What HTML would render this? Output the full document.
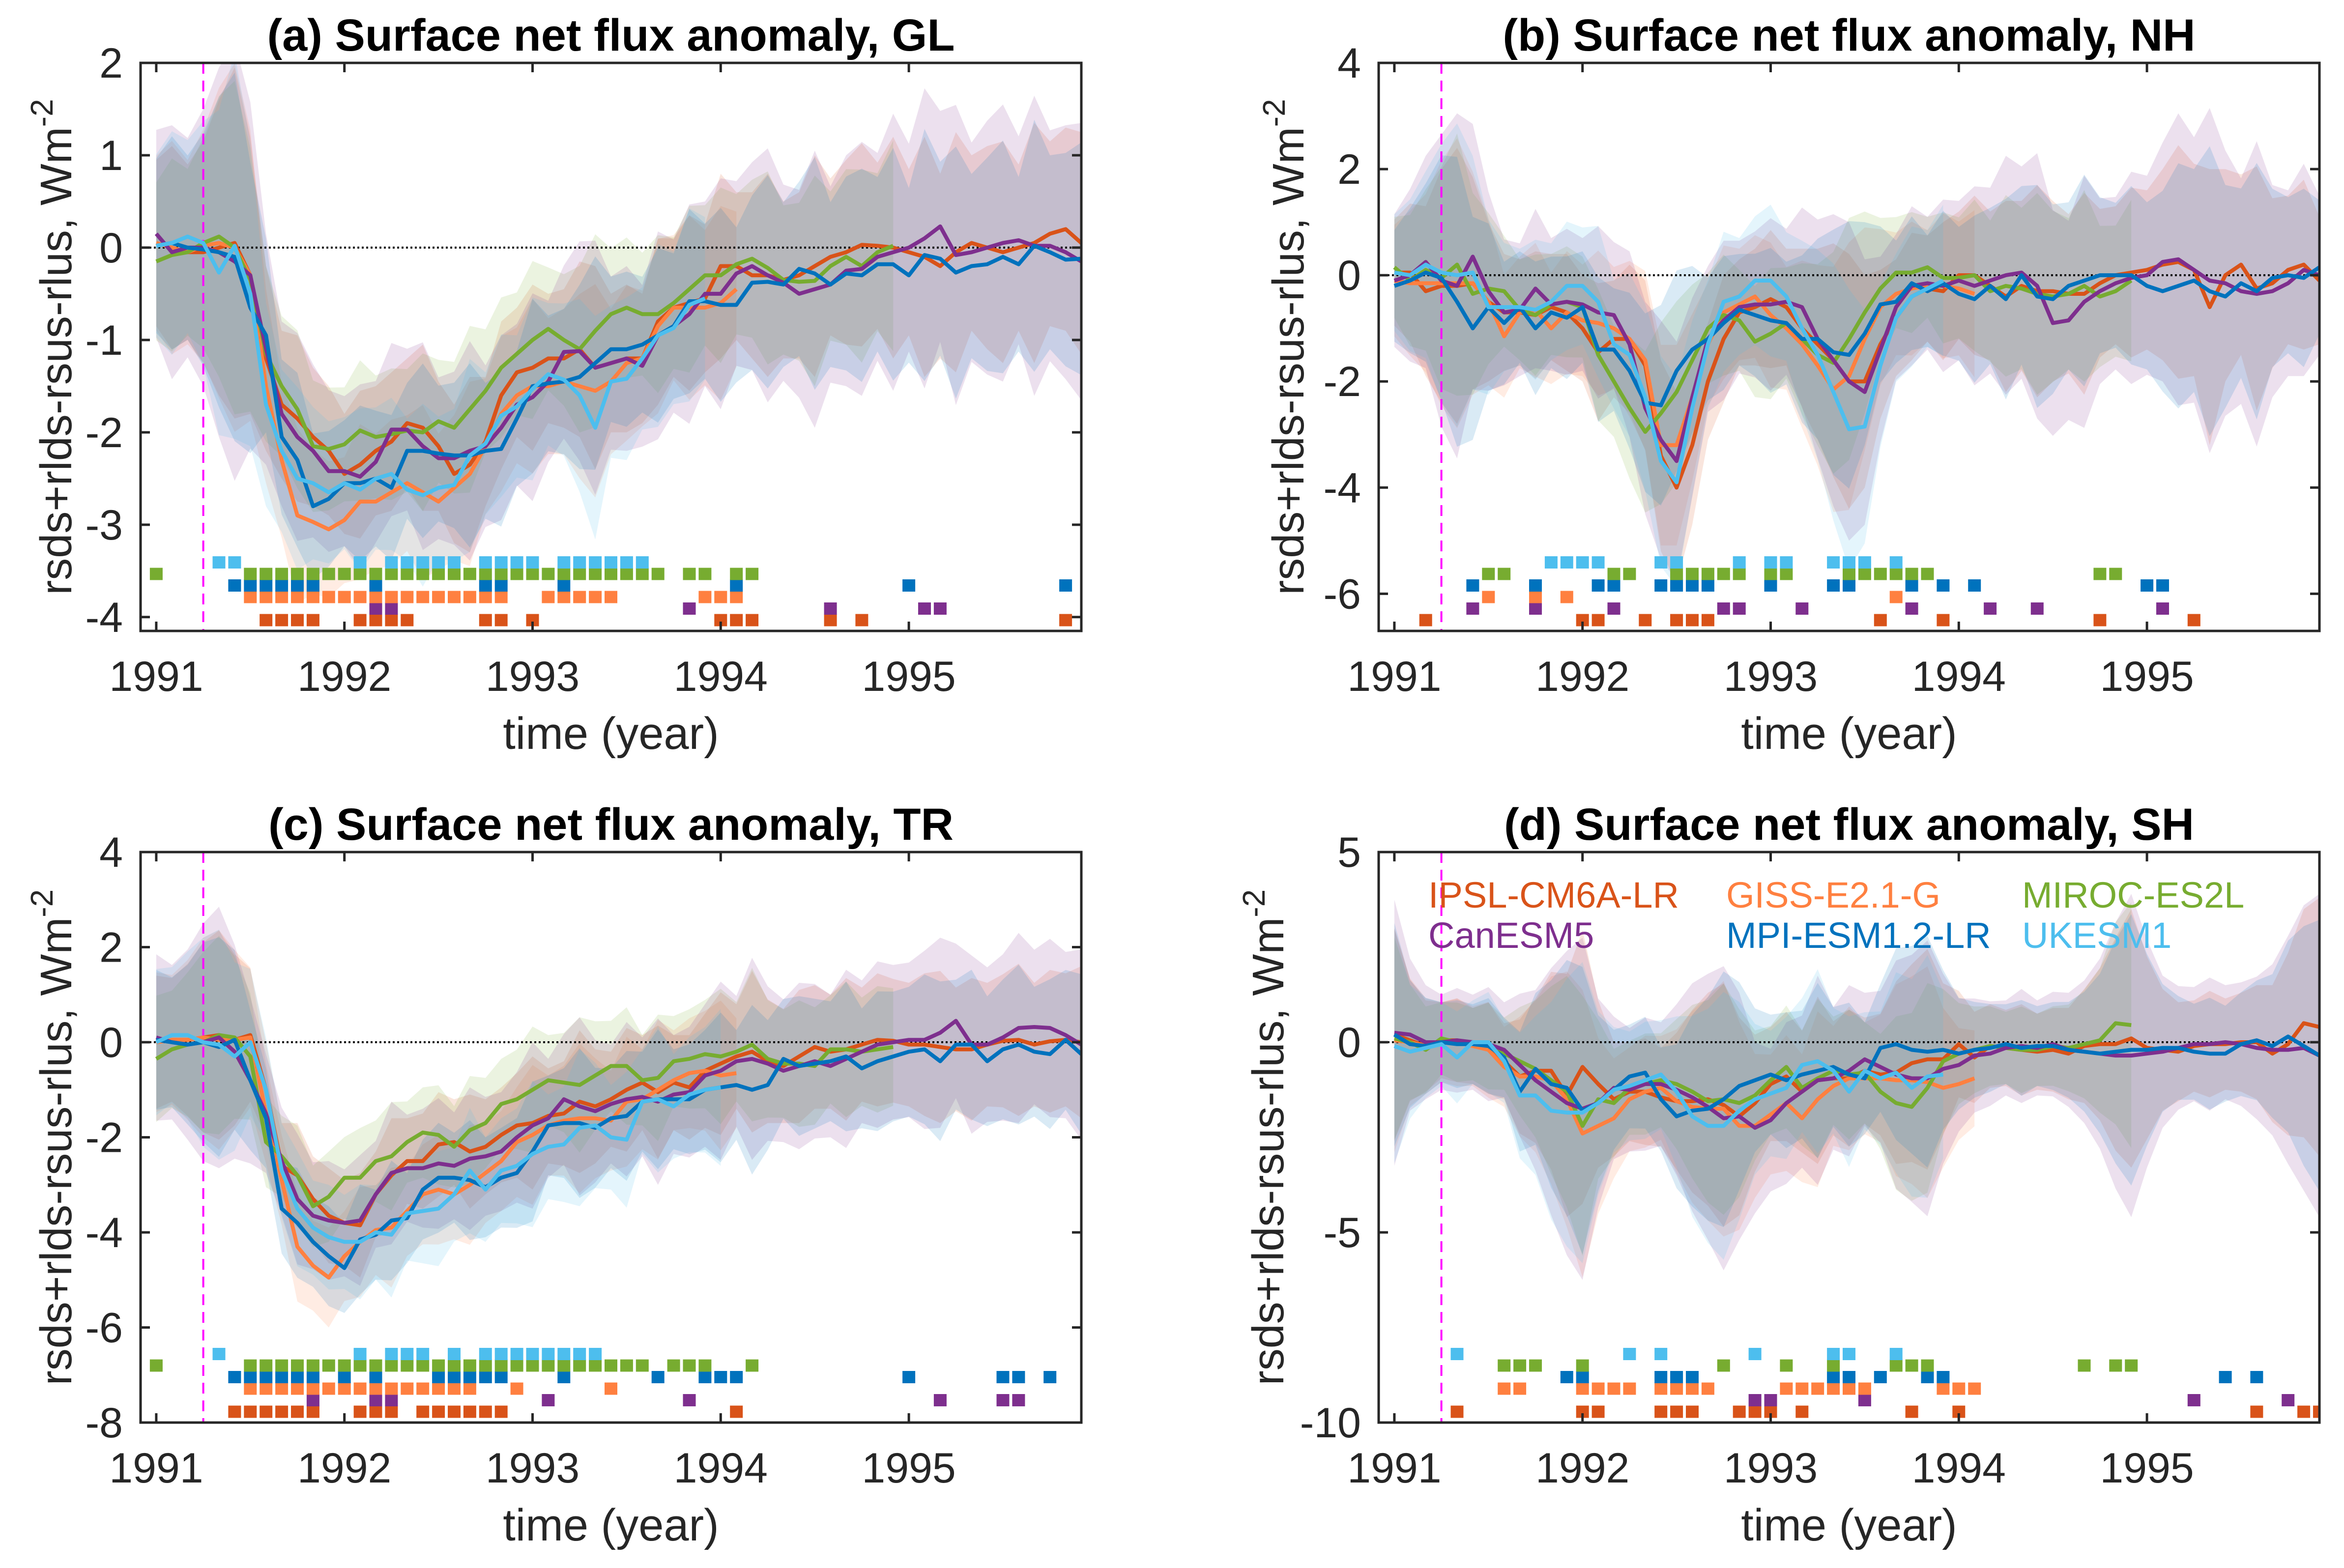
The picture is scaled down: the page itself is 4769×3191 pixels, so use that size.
<!DOCTYPE html>
<html><head><meta charset="utf-8"><title>Surface net flux anomaly</title>
<style>
html,body{margin:0;padding:0;background:#fff;}
svg{display:block;}
text{font-family:"Liberation Sans",Arial,sans-serif;fill:#262626;}
</style></head>
<body>
<svg id="fig" width="4769" height="3191" viewBox="0 0 4769 3191" xmlns="http://www.w3.org/2000/svg"></svg>
<script>
// ---- shared data ----
const modelNames = ["IPSL-CM6A-LR","GISS-E2.1-G","MIROC-ES2L","CanESM5","MPI-ESM1.2-LR","UKESM1"];
const modelKeys = ["ipsl","giss","miroc","can","mpi","ukesm"];
const xTickYears = [1991,1992,1993,1994,1995];
const eruptionYear = 1991.25;

// ---- panel (a) GL ----
const a_ipsl = [0.05,0,-0.05,-0.05,0,0.05,-0.3,-1.2,-1.7,-1.85,-2.05,-2.2,-2.45,-2.35,-2.2,-2.1,-1.9,-1.95,-2.15,-2.45,-2.35,-2.1,-1.6,-1.35,-1.3,-1.2,-1.2,-1.1,-1.3,-1.25,-1.2,-1.2,-0.8,-0.65,-0.6,-0.55,-0.2,-0.2,-0.3,-0.3,-0.35,-0.3,-0.2,-0.1,-0.05,0.03,0.02,0,-0.05,-0.1,-0.2,-0.05,0.05,0,-0.05,0,0.05,0.15,0.2,0.05];
const a_giss = [0.05,0,-0.05,0.02,0.05,0,-0.3,-1.5,-2.3,-2.9,-2.97,-3.05,-2.95,-2.75,-2.75,-2.65,-2.55,-2.65,-2.75,-2.6,-2.45,-2.15,-1.8,-1.6,-1.5,-1.5,-1.45,-1.5,-1.55,-1.45,-1.25,-1.2,-0.85,-0.65,-0.65,-0.65,-0.6,-0.45];
const a_miroc = [-0.15,-0.08,-0.05,0.05,0.12,0,-0.35,-1.15,-1.5,-1.75,-2.15,-2.18,-2.13,-1.98,-2.05,-2.02,-1.98,-2.0,-1.88,-1.95,-1.75,-1.55,-1.3,-1.15,-1.0,-0.88,-1.0,-1.1,-0.9,-0.72,-0.65,-0.72,-0.72,-0.6,-0.45,-0.3,-0.3,-0.18,-0.12,-0.22,-0.35,-0.37,-0.36,-0.2,-0.1,-0.2,-0.05,0.02];
const a_can = [0.15,-0.05,0,0,-0.05,-0.15,-0.3,-1.1,-1.8,-2.05,-2.2,-2.42,-2.42,-2.48,-2.32,-1.97,-1.97,-2.15,-2.28,-2.28,-2.2,-2.15,-1.95,-1.7,-1.62,-1.45,-1.13,-1.12,-1.3,-1.25,-1.2,-1.28,-0.95,-0.85,-0.72,-0.5,-0.5,-0.28,-0.2,-0.3,-0.38,-0.5,-0.45,-0.4,-0.25,-0.23,-0.1,-0.05,0,0.1,0.23,-0.08,-0.05,0,0.05,0.08,0.02,0.02,-0.05,-0.15];
const a_mpi = [0.02,0.05,0,-0.02,-0.05,-0.1,-0.65,-0.95,-2.05,-2.3,-2.8,-2.72,-2.55,-2.55,-2.5,-2.6,-2.2,-2.2,-2.23,-2.25,-2.25,-2.2,-2.18,-1.85,-1.5,-1.47,-1.45,-1.4,-1.25,-1.1,-1.1,-1.05,-0.95,-0.85,-0.58,-0.58,-0.62,-0.62,-0.38,-0.37,-0.4,-0.23,-0.28,-0.4,-0.28,-0.3,-0.18,-0.18,-0.3,-0.08,-0.12,-0.27,-0.2,-0.18,-0.1,-0.18,0.02,-0.05,-0.13,-0.12];
const a_ukesm = [0.02,0.05,0.12,0.05,-0.27,0.02,-0.5,-1.7,-2.2,-2.5,-2.55,-2.65,-2.55,-2.62,-2.5,-2.45,-2.62,-2.68,-2.6,-2.57,-2.25,-2.12,-1.82,-1.72,-1.53,-1.37,-1.43,-1.6,-1.95,-1.45,-1.42,-1.2,-0.95,-0.87,-0.62,-0.55];
const a_spread = [0.9,1.1,0.95,1.2,1.6,1.9,1.5,1.0,0.8,0.9,0.75,0.7,0.65,0.8,0.7,0.75,0.7,0.9,0.7,0.75,0.95,0.7,0.8,0.7,0.9,0.7,0.75,0.95,1.1,0.75,0.8,0.7,0.9,0.75,0.95,0.8,1.0,0.8,0.9,1.1,0.85,0.9,1.2,0.85,1.0,1.1,0.9,1.2,0.9,1.3,1.0,1.3,0.95,1.1,1.2,0.9,1.3,1.0,1.1,1.2];
const a_sig_ipsl = [7,8,9,10,13,14,15,16,21,22,24,36,37,38,43,45,58];
const a_sig_can = [14,15,34,43,49,50];
const a_sig_giss = [6,7,8,9,10,11,12,13,14,15,16,17,18,19,20,21,22,25,26,27,28,29,35,36,37];
const a_sig_mpi = [5,6,7,8,9,10,14,21,22,26,37,48,58];
const a_sig_miroc = [0,6,7,8,9,10,11,12,13,14,15,16,17,18,19,20,21,22,23,24,25,26,27,28,29,30,31,32,34,35,37,38];
const a_sig_ukesm = [4,5,13,15,16,17,18,19,21,22,23,24,26,27,28,29,30,31];
const a_yTicks = [2,1,0,-1,-2,-3,-4];

// ---- panel (b) NH ----
const b_ipsl = [0.05,0.05,-0.3,-0.2,-0.2,-0.15,-0.5,-0.7,-0.7,-0.75,-0.6,-0.7,-1.0,-1.45,-1.2,-1.2,-1.7,-3.4,-4.0,-3.2,-2.0,-1.2,-0.7,-0.6,-0.45,-0.6,-1.0,-1.3,-1.6,-2.0,-2.0,-1.3,-0.8,-0.4,-0.25,-0.3,0,0,-0.2,-0.4,-0.2,-0.3,-0.3,-0.35,-0.35,-0.15,0,0.05,0.1,0.2,0.25,0.1,-0.6,0,0.2,-0.25,-0.15,0.1,0.2,-0.1];
const b_giss = [-0.1,-0.15,-0.15,-0.15,-0.15,-0.15,-0.5,-1.15,-0.7,-0.65,-1.0,-0.7,-0.85,-0.9,-1.0,-1.2,-1.6,-3.2,-3.2,-2.3,-1.3,-0.7,-0.55,-0.4,-0.75,-1.0,-1.3,-1.7,-2.15,-1.9,-1.2,-0.6,-0.35,-0.25,-0.2,-0.2,-0.25,-0.35];
const b_miroc = [0.15,-0.1,0.1,-0.05,0.2,-0.35,-0.25,-0.3,-0.65,-0.75,-0.55,-0.5,-0.6,-1.5,-2.0,-2.5,-2.95,-2.6,-2.2,-1.6,-1.0,-0.75,-0.85,-1.25,-1.1,-0.9,-1.2,-1.5,-1.65,-1.2,-0.7,-0.25,0.05,0.05,0.15,-0.05,-0.05,0,-0.3,-0.2,-0.25,-0.35,-0.4,-0.35,-0.2,-0.4,-0.3,-0.1];
const b_can = [-0.1,0,0.25,-0.1,-0.2,0.35,-0.3,-0.7,-0.65,-0.25,-0.55,-0.5,-0.55,-0.7,-0.75,-1.3,-2.5,-3.1,-3.5,-2.3,-1.2,-0.85,-0.6,-0.55,-0.55,-0.5,-0.6,-1.2,-1.6,-2.0,-2.2,-1.4,-0.6,-0.2,-0.15,-0.2,-0.1,-0.2,-0.1,0,0.05,-0.2,-0.9,-0.85,-0.5,-0.3,-0.15,-0.05,0,0.25,0.3,0.1,-0.1,-0.15,-0.3,-0.35,-0.3,-0.15,0.1,0];
const b_mpi = [-0.2,-0.1,0.05,-0.05,-0.5,-1.0,-0.6,-0.9,-0.6,-1.0,-0.7,-0.8,-0.6,-1.4,-1.4,-1.8,-2.4,-2.45,-1.8,-1.4,-1.2,-0.9,-0.65,-0.75,-0.85,-0.9,-1.2,-1.2,-1.45,-1.5,-1.1,-0.55,-0.5,-0.15,-0.3,-0.15,-0.35,-0.45,-0.2,-0.45,0,-0.4,-0.45,-0.2,-0.1,0,0,0,-0.2,-0.3,-0.2,-0.1,-0.3,-0.4,-0.15,-0.3,-0.05,0,-0.05,0.15];
const b_ukesm = [0.05,0,0.2,0.05,0,0.05,-0.6,-0.6,-0.6,-0.65,-0.5,-0.2,-0.2,-0.5,-1.3,-1.5,-2.3,-3.5,-3.9,-2.5,-1.3,-0.5,-0.4,-0.1,-0.1,-0.4,-1.0,-1.5,-2.2,-2.9,-2.85,-1.7,-0.8,-0.4,-0.25,-0.1];
const b_spread = [1.0,1.3,1.6,2.2,2.6,2.0,1.5,1.1,1.0,1.2,1.0,1.1,1.0,1.3,1.1,1.4,1.6,1.8,1.8,1.5,1.1,1.2,1.0,1.1,1.3,1.1,1.5,1.8,2.2,2.4,2.0,1.4,1.1,1.2,1.0,1.3,1.2,1.5,1.4,1.8,1.6,2.0,1.7,1.5,1.9,1.4,1.3,1.6,1.5,1.8,2.2,2.0,2.6,2.0,1.7,2.3,1.6,1.4,1.6,1.2];
const b_sig_ipsl = [2,12,13,16,18,19,20,31,35,45,51];
const b_sig_can = [5,9,14,21,22,26,33,38,41,49];
const b_sig_giss = [6,9,11,32];
const b_sig_mpi = [5,9,13,14,17,18,19,20,24,28,29,33,35,37,48,49];
const b_sig_miroc = [6,7,14,15,18,19,20,21,22,24,25,29,30,31,32,33,34,45,46];
const b_sig_ukesm = [10,11,12,13,17,18,22,24,25,28,29,30,32];
const b_yTicks = [4,2,0,-2,-4,-6];

// ---- panel (c) TR ----
const c_ipsl = [0,0.05,0.05,0.1,0.15,0.05,0.15,-1.0,-2.6,-2.8,-3.3,-3.65,-3.8,-3.85,-3.2,-2.8,-2.5,-2.5,-2.15,-2.1,-2.3,-2.2,-1.95,-1.75,-1.7,-1.55,-1.5,-1.25,-1.35,-1.2,-1.0,-0.85,-1.05,-0.85,-0.95,-0.6,-0.45,-0.3,-0.2,-0.4,-0.5,-0.3,-0.1,-0.2,-0.15,-0.05,0.05,0.03,-0.05,-0.05,-0.1,-0.15,-0.15,-0.05,0.03,0.05,-0.05,0.02,0.05,0];
const c_giss = [0,0.05,0.05,0.1,0.05,0.05,0.1,-1.5,-2.9,-4.3,-4.7,-4.95,-4.5,-4.2,-3.95,-3.9,-3.55,-3.2,-3.1,-3.2,-3.0,-2.75,-2.5,-2.1,-1.95,-1.75,-1.65,-1.6,-1.6,-1.65,-1.25,-1.2,-1.0,-0.8,-0.65,-0.6,-0.7,-0.65];
const c_miroc = [-0.35,-0.15,-0.05,0,0.15,0.1,-0.3,-2.1,-2.4,-2.8,-3.45,-3.25,-2.85,-2.85,-2.5,-2.4,-2.1,-1.9,-1.95,-2.2,-1.85,-1.7,-1.3,-1.2,-1.0,-0.8,-0.85,-0.9,-0.7,-0.5,-0.5,-0.8,-0.75,-0.4,-0.35,-0.25,-0.3,-0.2,-0.05,-0.35,-0.45,-0.45,-0.5,-0.15,-0.15,-0.2,-0.15,-0.1];
const c_can = [0.1,0,-0.05,0,0.1,-0.2,-0.8,-1.5,-2.5,-3.3,-3.65,-3.75,-3.8,-3.75,-3.2,-2.75,-2.65,-2.65,-2.55,-2.6,-2.45,-2.4,-2.3,-2.0,-1.75,-1.6,-1.2,-1.35,-1.45,-1.3,-1.2,-1.15,-1.25,-1.1,-1.05,-0.7,-0.6,-0.4,-0.35,-0.45,-0.6,-0.5,-0.4,-0.5,-0.35,-0.2,-0.05,0,0.05,0.05,0.2,0.45,-0.05,-0.05,0.1,0.3,0.32,0.3,0.15,-0.05];
const c_mpi = [0.05,0,-0.05,0,-0.1,0.05,-0.8,-1.6,-3.5,-3.8,-4.2,-4.5,-4.75,-4.15,-4.05,-3.75,-3.7,-3.1,-2.85,-2.85,-2.9,-3.05,-2.85,-2.75,-2.3,-1.75,-1.7,-1.7,-1.8,-1.6,-1.55,-1.25,-1.2,-1.2,-1.2,-1.0,-0.95,-0.9,-1.0,-0.9,-0.35,-0.5,-0.45,-0.4,-0.3,-0.55,-0.4,-0.3,-0.2,-0.15,-0.4,-0.05,-0.05,-0.4,-0.15,-0.05,-0.2,-0.25,0.05,-0.25];
const c_ukesm = [0,0.15,0.15,0,-0.05,-0.3,0,-1.0,-2.7,-3.5,-3.9,-4.1,-4.2,-4.2,-4.0,-4.05,-3.6,-3.55,-3.5,-3.2,-2.7,-3.1,-2.7,-2.6,-2.35,-2.2,-2.15,-1.8,-1.75,-2.0,-2.05,-1.25,-1.2,-1.35,-1.1,-1.0,-0.95];
const c_spread = [1.4,1.3,1.6,2.0,2.2,1.8,1.4,1.0,0.9,1.1,0.9,1.0,0.9,1.1,0.9,1.2,0.9,1.0,1.1,0.9,1.2,1.0,1.0,1.1,1.4,1.0,1.1,1.5,1.2,1.0,1.3,1.0,1.4,1.0,1.1,1.2,1.5,1.1,1.7,1.3,1.2,1.4,1.3,1.2,1.5,1.2,1.4,1.3,1.3,1.5,1.6,1.3,1.5,1.3,1.4,1.6,1.3,1.5,1.4,1.6];
const c_sig_ipsl = [5,6,7,8,9,10,13,14,15,17,18,19,20,21,22,37];
const c_sig_can = [10,14,15,25,34,50,54,55];
const c_sig_giss = [6,7,8,9,10,11,12,13,14,15,16,17,18,19,20,23,29];
const c_sig_mpi = [5,6,7,8,9,10,12,14,18,19,20,21,22,26,32,35,36,37,48,54,55,57];
const c_sig_miroc = [0,6,7,8,9,10,11,12,13,14,15,16,17,18,19,20,21,22,23,24,25,26,27,28,29,30,31,33,34,35,38];
const c_sig_ukesm = [4,13,15,16,17,19,21,22,23,24,25,26,27,28];
const c_yTicks = [4,2,0,-2,-4,-6,-8];

// ---- panel (d) SH ----
const d_ipsl = [0.2,0.05,-0.1,0.05,0.05,-0.1,-0.15,-0.5,-0.9,-0.75,-0.75,-1.4,-0.65,-1.1,-1.5,-1.3,-1.3,-1.45,-1.55,-1.55,-1.5,-1.65,-1.95,-1.6,-1.1,-0.9,-1.3,-1.0,-0.95,-0.95,-0.75,-0.85,-0.8,-0.55,-0.45,-0.45,-0.05,-0.4,-0.1,-0.15,-0.2,-0.25,-0.2,-0.3,-0.1,-0.05,-0.05,0.1,-0.15,-0.2,-0.25,-0.1,-0.05,-0.05,0,0,-0.3,-0.05,0.5,0.4];
const d_giss = [0.05,0,-0.1,0,0,-0.1,-0.2,-0.65,-0.9,-0.9,-1.0,-1.5,-2.4,-2.2,-2.0,-1.5,-1.3,-1.2,-1.55,-1.7,-1.75,-1.75,-2.2,-2.2,-1.9,-1.6,-2.0,-1.5,-1.15,-0.95,-0.95,-0.95,-1.0,-1.0,-1.05,-1.2,-1.1,-0.95];
const d_miroc = [0.1,0,-0.2,0.1,0,-0.05,-0.1,-0.3,-0.5,-0.7,-1.0,-1.3,-2.2,-1.5,-1.6,-1.2,-1.1,-1.0,-1.1,-1.3,-1.55,-1.5,-1.6,-1.4,-1.0,-0.65,-1.2,-0.95,-0.75,-0.85,-0.8,-1.3,-1.6,-1.7,-1.2,-0.5,-0.3,-0.2,-0.1,-0.15,-0.2,-0.2,-0.1,-0.15,-0.05,0.05,0.5,0.45];
const d_can = [0.25,0.2,0,0,0.05,0,-0.05,-0.2,-0.6,-1.0,-1.3,-1.6,-1.75,-1.6,-1.2,-1.25,-1.1,-1.1,-1.25,-1.45,-1.7,-2.0,-1.95,-2.25,-2.05,-1.6,-1.3,-1.0,-0.95,-0.75,-0.45,-0.65,-0.85,-0.95,-0.95,-0.7,-0.6,-0.35,-0.3,-0.15,-0.1,-0.15,-0.05,-0.2,-0.25,-0.3,-0.35,-0.35,-0.3,-0.25,-0.15,-0.05,-0.05,0,-0.05,-0.15,-0.2,-0.2,-0.15,-0.35];
const d_mpi = [0.2,-0.05,-0.1,0,-0.05,-0.05,-0.1,-0.4,-1.3,-0.7,-1.1,-1.2,-1.8,-1.6,-1.25,-0.9,-0.8,-1.5,-1.95,-1.8,-1.75,-1.5,-1.15,-1.0,-0.85,-1.0,-0.85,-0.75,-0.65,-0.85,-0.95,-0.15,-0.05,-0.2,-0.25,-0.2,-0.3,-0.2,-0.15,-0.05,-0.15,-0.1,-0.1,-0.2,-0.25,-0.3,-0.25,-0.2,-0.2,-0.15,-0.15,-0.25,-0.3,-0.3,-0.05,0.05,-0.1,0.15,-0.1,-0.35];
const d_ukesm = [-0.1,-0.25,-0.15,-0.05,-0.4,0,0,-0.5,-1.4,-1.4,-1.8,-1.85,-1.85,-1.6,-1.25,-1.15,-1.0,-0.85,-1.3,-1.95,-2.2,-2.2,-1.8,-1.5,-1.35,-1.2,-0.6,-0.5,-0.75,-1.3,-0.75,-0.95,-0.8,-1.2,-0.9,-0.85];
const d_spread = [2.8,1.6,1.2,1.0,1.1,1.0,1.2,1.0,1.5,1.9,2.6,3.2,3.6,2.2,1.5,1.3,1.4,1.3,1.8,2.4,2.8,3.2,2.6,1.8,1.5,1.7,1.6,2.2,1.5,1.8,1.4,1.6,2.4,2.6,2.9,2.0,1.4,1.2,1.1,1.0,1.2,1.0,1.1,1.2,1.5,2.0,2.8,3.4,2.4,1.6,1.3,1.2,1.4,1.2,1.3,1.5,1.8,2.4,3.0,3.4];
const d_sig_ipsl = [4,12,13,17,18,19,22,23,24,26,33,36,55,58,59];
const d_sig_can = [23,24,30,51,57];
const d_sig_giss = [7,8,12,13,14,15,17,18,19,20,25,26,27,28,29,30,35,36,37];
const d_sig_mpi = [11,12,17,18,19,28,29,31,34,35,53,55];
const d_sig_miroc = [7,8,9,12,21,25,28,32,33,34,44,46,47];
const d_sig_ukesm = [4,15,17,23,28,29,32];
const d_yTicks = [5,0,-5,-10];

// ---- rendering ----
const NS = "http://www.w3.org/2000/svg";
const svg = document.getElementById("fig");
const colors = {ipsl:"#D95319",giss:"#FF8040",miroc:"#77AC30",can:"#7E2F8E",mpi:"#0072BD",ukesm:"#4DBEEE"};
const bandK = {ipsl:1.0,giss:1.05,miroc:0.95,can:1.25,mpi:1.05,ukesm:1.1};
const INK = "#262626";

function mk(tag, attrs, parent) {
  const e = document.createElementNS(NS, tag);
  for (const k in attrs) e.setAttribute(k, attrs[k]);
  (parent || svg).appendChild(e);
  return e;
}

const panels = [
  {id:"a", title:"(a) Surface net flux anomaly, GL", L:286, R:2200, T:128, B:1284, ymin:-4.15, ymax:2, yTicks:a_yTicks, ylabX:145,
   series:{ipsl:a_ipsl,giss:a_giss,miroc:a_miroc,can:a_can,mpi:a_mpi,ukesm:a_ukesm}, spread:a_spread,
   sig:{ipsl:a_sig_ipsl,can:a_sig_can,giss:a_sig_giss,mpi:a_sig_mpi,miroc:a_sig_miroc,ukesm:a_sig_ukesm}},
  {id:"b", title:"(b) Surface net flux anomaly, NH", L:2805, R:4719, T:128, B:1284, ymin:-6.7, ymax:4, yTicks:b_yTicks, ylabX:2652,
   series:{ipsl:b_ipsl,giss:b_giss,miroc:b_miroc,can:b_can,mpi:b_mpi,ukesm:b_ukesm}, spread:b_spread,
   sig:{ipsl:b_sig_ipsl,can:b_sig_can,giss:b_sig_giss,mpi:b_sig_mpi,miroc:b_sig_miroc,ukesm:b_sig_ukesm}},
  {id:"c", title:"(c) Surface net flux anomaly, TR", L:286, R:2200, T:1734, B:2895, ymin:-8, ymax:4, yTicks:c_yTicks, ylabX:145,
   series:{ipsl:c_ipsl,giss:c_giss,miroc:c_miroc,can:c_can,mpi:c_mpi,ukesm:c_ukesm}, spread:c_spread,
   sig:{ipsl:c_sig_ipsl,can:c_sig_can,giss:c_sig_giss,mpi:c_sig_mpi,miroc:c_sig_miroc,ukesm:c_sig_ukesm}},
  {id:"d", title:"(d) Surface net flux anomaly, SH", L:2805, R:4719, T:1734, B:2895, ymin:-10, ymax:5, yTicks:d_yTicks, ylabX:2611, legend:true,
   series:{ipsl:d_ipsl,giss:d_giss,miroc:d_miroc,can:d_can,mpi:d_mpi,ukesm:d_ukesm}, spread:d_spread,
   sig:{ipsl:d_sig_ipsl,can:d_sig_can,giss:d_sig_giss,mpi:d_sig_mpi,miroc:d_sig_miroc,ukesm:d_sig_ukesm}}
];
const sigRowOrder = ["ipsl","can","giss","mpi","miroc","ukesm"];
const xmin = 1991 - 1/12, xmax = 1991 + 59/12;

panels.forEach(p => {
  const g = mk("g", {});
  
  
  const xT = t => p.L + (t - xmin) / (xmax - xmin) * (p.R - p.L);
  const xI = i => xT(1991 + i / 12);
  const yV = v => p.T + (p.ymax - v) / (p.ymax - p.ymin) * (p.B - p.T);

  const cp = mk("clipPath", {id:"clip-" + p.id}, g);
  mk("rect", {x:p.L, y:p.T, width:p.R - p.L, height:p.B - p.T}, cp);
  const plot = mk("g", {"clip-path":"url(#clip-" + p.id + ")"}, g);
  
  

  modelKeys.forEach(k => {
    const vals = p.series[k].slice(0, 60);
    let up = [], lo = [];
    vals.forEach((v, i) => {
      const s = p.spread[i] * bandK[k];
      up.push(xI(i).toFixed(1) + "," + yV(v + s).toFixed(1));
      lo.unshift(xI(i).toFixed(1) + "," + yV(v - s).toFixed(1));
    });
    const band = mk("polygon", {points: up.concat(lo).join(" "), fill: colors[k], "fill-opacity": 0.15, stroke: "none"}, plot);
    
    
  });

  const zl = mk("line", {x1:p.L, x2:p.R, y1:yV(0), y2:yV(0), stroke:"#000", "stroke-width":4, "stroke-dasharray":"4 5"}, plot);
  
  

  const el = mk("line", {x1:xT(eruptionYear), x2:xT(eruptionYear), y1:p.T, y2:p.B, stroke:"#FF00FF", "stroke-width":4, "stroke-dasharray":"22 14"}, plot);
  
  

  modelKeys.forEach(k => {
    const vals = p.series[k].slice(0, 60);
    const pts = vals.map((v, i) => xI(i).toFixed(1) + "," + yV(v).toFixed(1)).join(" ");
    const ln = mk("polyline", {points: pts, fill: "none", stroke: colors[k], "stroke-width": 8, "stroke-linejoin": "round"}, plot);
    
    
  });

  sigRowOrder.forEach((k, r) => {
    const cy = p.B - 22 - r * 23.5;
    p.sig[k].forEach(i => {
      const sq = mk("rect", {x: xI(i) - 13, y: cy - 12.5, width: 26, height: 25, fill: colors[k]}, plot);
      
      
    });
  });

  const box = mk("rect", {x:p.L, y:p.T, width:p.R - p.L, height:p.B - p.T, fill:"none", stroke:INK, "stroke-width":5}, g);
  
  

  xTickYears.forEach(yr => {
    const x = xT(yr);
    mk("line", {x1:x, x2:x, y1:p.B, y2:p.B - 19, stroke:INK, "stroke-width":5}, g);
    mk("line", {x1:x, x2:x, y1:p.T, y2:p.T + 19, stroke:INK, "stroke-width":5}, g);
    const tl = mk("text", {x:x, y:p.B + 122, "text-anchor":"middle", "font-size":86}, g);
    tl.textContent = yr;
    
    
  });
  p.yTicks.forEach(v => {
    const y = yV(v);
    mk("line", {x1:p.L, x2:p.L + 19, y1:y, y2:y, stroke:INK, "stroke-width":5}, g);
    mk("line", {x1:p.R, x2:p.R - 19, y1:y, y2:y, stroke:INK, "stroke-width":5}, g);
    const tl = mk("text", {x:p.L - 36, y:y + 30, "text-anchor":"end", "font-size":86}, g);
    tl.textContent = v;
    
    
  });

  const tt = mk("text", {x:(p.L + p.R) / 2, y:p.T - 25, "text-anchor":"middle", "font-size":92, "font-weight":"bold", style:"fill:#000"}, g);
  tt.textContent = p.title;
  
  

  const xl = mk("text", {x:(p.L + p.R) / 2, y:p.B + 240, "text-anchor":"middle", "font-size":92}, g);
  xl.textContent = "time (year)";
  
  

  const yc = (p.T + p.B) / 2;
  const yl = mk("text", {x:p.ylabX, y:yc, "text-anchor":"middle", "font-size":90, transform:"rotate(-90 " + p.ylabX + " " + yc + ")"}, g);
  
  
  const t1 = mk("tspan", {}, yl);
  t1.textContent = "rsds+rlds-rsus-rlus, Wm";
  const t2 = mk("tspan", {dy:-38, "font-size":64}, yl);
  t2.textContent = "-2";

  if (p.legend) {
    const lx = [2906, 3512, 4114], ly = [1847, 1929];
    const order = [["ipsl","giss","miroc"],["can","mpi","ukesm"]];
    order.forEach((row, r) => row.forEach((k, c) => {
      const lt = mk("text", {x:lx[c], y:ly[r], "font-size":74, style:"fill:" + colors[k]}, g);
      lt.textContent = modelNames[modelKeys.indexOf(k)];
      
      
    }));
  }
});
</script>
</body></html>
